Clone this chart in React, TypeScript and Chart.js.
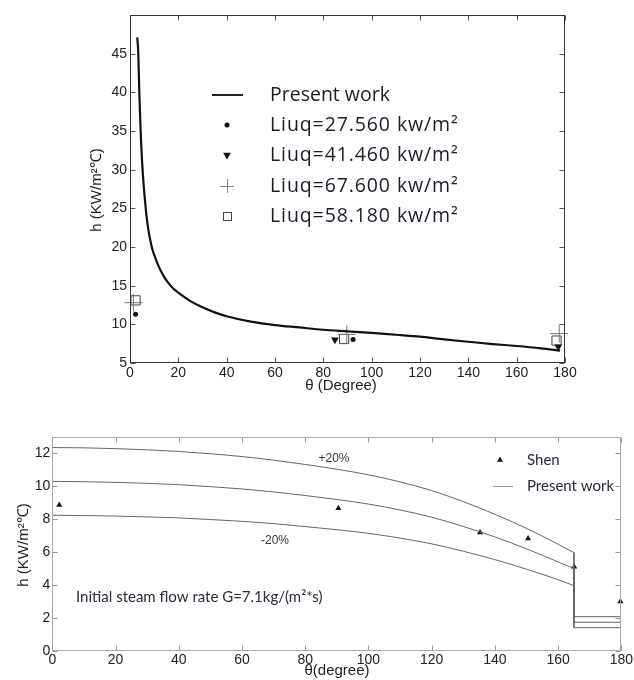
import React, { useEffect, useRef } from 'react';
import { Chart, registerables } from 'chart.js';
Chart.register(...registerables);

// ---------- shared ticks ----------
const xTickValues = [0, 20, 40, 60, 80, 100, 120, 140, 160, 180];
const topYTickValues = [5, 10, 15, 20, 25, 30, 35, 40, 45, 50];
const botYTickValues = [0, 2, 4, 6, 8, 10, 12];

// ---------- top chart data ----------
const topCurveX = [3.0, 3.4, 3.85, 4.4, 5.2, 6.5, 7.5, 9, 10, 12, 14, 16, 18, 20, 25, 30, 35, 40, 50, 60, 70, 80, 90, 100, 110, 120, 130, 140, 150, 160, 170, 178];
const topCurveY = [47.1, 45.3, 40, 35, 30, 25, 22.4, 20, 19.0, 17.4, 16.2, 15.3, 14.6, 14.1, 13.0, 12.2, 11.55, 11.05, 10.35, 9.9, 9.6, 9.3, 9.1, 8.9, 8.65, 8.4, 8.05, 7.75, 7.45, 7.2, 6.9, 6.6];
const liuq1X = [2.3, 92.3];
const liuq1Y = [11.3, 8.05];
const liuq2X = [84.8, 177.2];
const liuq2Y = [8.0, 7.1];
const liuq3X = [1.4, 89.7, 177.6];
const liuq3Y = [12.8, 8.7, 8.8];
const liuq4X = [2.3, 88.6, 176.5];
const liuq4Y = [13.1, 8.1, 7.9];
const topLegendLabels = ['Present work', 'Liuq=27.560 kw/m²', 'Liuq=41.460 kw/m²', 'Liuq=67.600 kw/m²', 'Liuq=58.180 kw/m²'];

// ---------- bottom chart data ----------
const botCurveX = [0, 10, 20, 30, 40, 50, 60, 70, 80, 90, 100, 110, 120, 130, 140, 150, 160, 165];
const presentY = [10.3, 10.28, 10.24, 10.18, 10.1, 9.98, 9.84, 9.66, 9.44, 9.2, 8.92, 8.56, 8.12, 7.56, 6.92, 6.2, 5.4, 5.0];
const plus20Y = [12.36, 12.34, 12.29, 12.22, 12.12, 11.98, 11.81, 11.59, 11.33, 11.04, 10.7, 10.27, 9.74, 9.07, 8.3, 7.44, 6.48, 5.97];
const minus20Y = [8.24, 8.22, 8.19, 8.14, 8.08, 7.98, 7.87, 7.73, 7.55, 7.36, 7.14, 6.85, 6.5, 6.05, 5.54, 4.96, 4.32, 3.96];
const stepX = [165, 165, 180];
const presentStepY = [5.0, 1.73, 1.73];
const plus20StepY = [5.97, 2.07, 2.07];
const minus20StepY = [3.96, 1.4, 1.4];
const shenX = [2.2, 90.5, 135.3, 150.5, 165.1, 179.7];
const shenY = [8.87, 8.67, 7.19, 6.82, 5.1, 3.0];
const botLegendLabels = ['Shen', 'Present work'];

const toPts = (xs: number[], ys: number[]) => xs.map((x, i) => ({ x, y: ys[i] }));

const TICK_FONT = '"Liberation Sans", Arial, sans-serif';

function drawTri(ctx: CanvasRenderingContext2D, x: number, y: number, r: number, down: boolean) {
  const h = r * 1.5;
  const w = r * Math.sqrt(3) / 2;
  ctx.beginPath();
  if (down) {
    ctx.moveTo(x - w, y - h / 3);
    ctx.lineTo(x + w, y - h / 3);
    ctx.lineTo(x, y + (2 * h) / 3);
  } else {
    ctx.moveTo(x - w, y + h / 3);
    ctx.lineTo(x + w, y + h / 3);
    ctx.lineTo(x, y - (2 * h) / 3);
  }
  ctx.closePath();
  ctx.fill();
}

function framePlugin(cfg: {
  frameColor: string;
  tickColor: string;
  tickLen: number;
  yTicks: number[];
  extra: (ctx: CanvasRenderingContext2D, chart: any) => void;
}) {
  return {
    id: 'frame',
    afterDraw(chart: any) {
      const { ctx, chartArea: a, scales } = chart;
      const L = Math.round(a.left) + 0.5;
      const R = Math.round(a.right) - 0.5;
      const T = Math.round(a.top) + 0.5;
      const B = Math.round(a.bottom) - 0.5;
      ctx.save();
      ctx.lineWidth = 1;
      ctx.strokeStyle = cfg.tickColor;
      ctx.beginPath();
      xTickValues.forEach((v) => {
        const px = Math.round(scales.x.getPixelForValue(v)) + 0.5;
        ctx.moveTo(px, B);
        ctx.lineTo(px, B - cfg.tickLen);
        ctx.moveTo(px, T);
        ctx.lineTo(px, T + cfg.tickLen);
      });
      cfg.yTicks.forEach((v) => {
        const py = Math.round(scales.y.getPixelForValue(v)) + 0.5;
        ctx.moveTo(L, py);
        ctx.lineTo(L + cfg.tickLen, py);
        ctx.moveTo(R, py);
        ctx.lineTo(R - cfg.tickLen, py);
      });
      ctx.stroke();
      ctx.strokeStyle = cfg.frameColor;
      ctx.strokeRect(L, T, R - L, B - T);
      cfg.extra(ctx, chart);
      ctx.restore();
    },
  };
}

function TopChart() {
  const ref = useRef<HTMLCanvasElement>(null);
  useEffect(() => {
    if (!ref.current) return;
    const chart = new Chart(ref.current, {
      type: 'scatter',
      data: {
        datasets: [
          {
            data: toPts(topCurveX, topCurveY),
            showLine: true,
            borderColor: '#111',
            borderWidth: 2.2,
            pointRadius: 0,
            cubicInterpolationMode: 'monotone',
          } as any,
          { data: toPts(liuq1X, liuq1Y), pointStyle: 'circle', pointRadius: 2.5, backgroundColor: '#111', borderColor: '#111', borderWidth: 0, clip: false } as any,
          { data: toPts(liuq2X, liuq2Y), pointStyle: 'triangle', rotation: 180, pointRadius: 4.5, backgroundColor: '#111', borderColor: '#111', borderWidth: 0, clip: false } as any,
          { data: toPts(liuq3X, liuq3Y), pointStyle: 'cross', pointRadius: 9, borderColor: '#777', borderWidth: 1, clip: false } as any,
          { data: toPts(liuq4X, liuq4Y), pointStyle: 'rect', pointRadius: 6.5, backgroundColor: 'rgba(255,255,255,0)', borderColor: '#444', borderWidth: 1, clip: false } as any,
        ],
      },
      options: {
        animation: false,
        responsive: false,
        events: [],
        layout: { padding: { left: 0, top: 15, right: 69, bottom: 0 } },
        plugins: { legend: { display: false }, tooltip: { enabled: false } },
        scales: {
          x: {
            type: 'linear',
            min: 0,
            max: 180,
            afterBuildTicks: (s: any) => { s.ticks = xTickValues.map((v) => ({ value: v })); },
            afterFit: (s: any) => { s.height = 32; },
            ticks: { font: { family: TICK_FONT, size: 14 }, color: '#222', padding: 2, maxRotation: 0, autoSkip: false },
            grid: { display: false, drawTicks: false },
            border: { display: false },
          },
          y: {
            type: 'linear',
            min: 5,
            max: 50,
            afterBuildTicks: (s: any) => { s.ticks = topYTickValues.map((v) => ({ value: v })); },
            afterFit: (s: any) => { s.width = 130; },
            ticks: {
              font: { family: TICK_FONT, size: 14 },
              color: '#222',
              padding: 3,
              autoSkip: false,
              callback: (v: any) => (v === 50 ? '' : String(v)),
            },
            grid: { display: false, drawTicks: false },
            border: { display: false },
          },
        },
      } as any,
      plugins: [
        framePlugin({
          frameColor: '#333',
          tickColor: '#555',
          tickLen: 5,
          yTicks: topYTickValues,
          extra: (ctx) => {
            ctx.fillStyle = '#222';
            ctx.font = `15px ${TICK_FONT}`;
            ctx.textAlign = 'center';
            ctx.textBaseline = 'middle';
            ctx.fillText('θ (Degree)', 341, 386);
            ctx.save();
            ctx.translate(97, 190);
            ctx.rotate(-Math.PI / 2);
            ctx.fillText('h (KW/m²℃)', 0, 0);
            ctx.restore();
            // legend
            const rows = [95, 125, 155, 186, 216];
            const mx = 227;
            ctx.strokeStyle = '#222';
            ctx.lineWidth = 2;
            ctx.beginPath();
            ctx.moveTo(212, rows[0]);
            ctx.lineTo(243, rows[0]);
            ctx.stroke();
            ctx.fillStyle = '#111';
            ctx.beginPath();
            ctx.arc(mx, rows[1], 2.5, 0, Math.PI * 2);
            ctx.fill();
            drawTri(ctx, mx, rows[2], 4.5, true);
            ctx.strokeStyle = '#888';
            ctx.lineWidth = 1;
            ctx.beginPath();
            ctx.moveTo(mx - 7, rows[3] + 0.5);
            ctx.lineTo(mx + 7, rows[3] + 0.5);
            ctx.moveTo(mx + 0.5, rows[3] - 7);
            ctx.lineTo(mx + 0.5, rows[3] + 7);
            ctx.stroke();
            ctx.strokeStyle = '#444';
            ctx.strokeRect(mx - 3.5, rows[4] - 3.5, 8, 8);
            ctx.fillStyle = '#1c1c28';
            ctx.font = '19.5px "Open Sans"';
            ctx.textAlign = 'left';
            ctx.textBaseline = 'middle';
            topLegendLabels.forEach((t, i) => {
              (ctx as any).letterSpacing = i === 0 ? '0px' : '0.9px';
              ctx.fillText(t, 270, rows[i]);
            });
            (ctx as any).letterSpacing = '0px';
          },
        }) as any,
      ],
    });
    return () => chart.destroy();
  }, []);
  return <canvas ref={ref} width={634} height={395} style={{ display: 'block' }} />;
}

function BottomChart() {
  const ref = useRef<HTMLCanvasElement>(null);
  useEffect(() => {
    if (!ref.current) return;
    const lineDs = (xs: number[], ys: number[], mono: boolean) => ({
      data: toPts(xs, ys),
      showLine: true,
      borderColor: '#666',
      borderWidth: 1,
      pointRadius: 0,
      cubicInterpolationMode: mono ? 'monotone' : 'default',
      tension: 0,
    });
    const chart = new Chart(ref.current, {
      type: 'scatter',
      data: {
        datasets: [
          lineDs(botCurveX, plus20Y, true) as any,
          lineDs(botCurveX, presentY, true) as any,
          lineDs(botCurveX, minus20Y, true) as any,
          lineDs(stepX, plus20StepY, false) as any,
          lineDs(stepX, presentStepY, false) as any,
          lineDs(stepX, minus20StepY, false) as any,
          { data: toPts(shenX, shenY), pointStyle: 'triangle', pointRadius: 3.5, backgroundColor: '#111', borderColor: '#111', borderWidth: 0, clip: false } as any,
        ],
      },
      options: {
        animation: false,
        responsive: false,
        events: [],
        layout: { padding: { left: 0, top: 42, right: 11, bottom: 0 } },
        plugins: { legend: { display: false }, tooltip: { enabled: false } },
        scales: {
          x: {
            type: 'linear',
            min: 0,
            max: 180,
            afterBuildTicks: (s: any) => { s.ticks = xTickValues.map((v) => ({ value: v })); },
            afterFit: (s: any) => { s.height = 29.3; },
            ticks: { font: { family: TICK_FONT, size: 14 }, color: '#222', padding: 1, maxRotation: 0, autoSkip: false },
            grid: { display: false, drawTicks: false },
            border: { display: false },
          },
          y: {
            type: 'linear',
            min: 0,
            max: 13,
            afterBuildTicks: (s: any) => { s.ticks = botYTickValues.map((v) => ({ value: v })); },
            afterFit: (s: any) => { s.width = 52.3; },
            ticks: { font: { family: TICK_FONT, size: 14 }, color: '#222', padding: 2, autoSkip: false },
            grid: { display: false, drawTicks: false },
            border: { display: false },
          },
        },
      } as any,
      plugins: [
        framePlugin({
          frameColor: '#aaa',
          tickColor: '#999',
          tickLen: 5,
          yTicks: botYTickValues,
          extra: (ctx) => {
            const oy = -395; // this canvas starts 395px down the page
            ctx.fillStyle = '#222';
            ctx.font = `15px ${TICK_FONT}`;
            ctx.textAlign = 'center';
            ctx.textBaseline = 'middle';
            ctx.fillText('θ(degree)', 337, 671 + oy);
            ctx.save();
            ctx.translate(24, 545 + oy);
            ctx.rotate(-Math.PI / 2);
            ctx.fillText('h (KW/m²℃)', 0, 0);
            ctx.restore();
            // annotations
            ctx.fillStyle = '#333';
            ctx.font = `12px ${TICK_FONT}`;
            ctx.fillText('+20%', 334, 459 + oy);
            ctx.fillText('-20%', 275, 541 + oy);
            ctx.textAlign = 'left';
            ctx.font = '15px Lato';
            ctx.fillStyle = '#2a2a3a';
            ctx.fillText('Initial steam flow rate G=7.1kg/(m²*s)', 76, 597 + oy);
            // legend
            ctx.fillStyle = '#111';
            drawTri(ctx, 500, 460 + oy, 3.5, false);
            ctx.strokeStyle = '#999';
            ctx.lineWidth = 1;
            ctx.beginPath();
            ctx.moveTo(493, 486.5 + oy);
            ctx.lineTo(513, 486.5 + oy);
            ctx.stroke();
            ctx.fillStyle = '#2a2a3a';
            ctx.font = '15px Lato';
            ctx.fillText(botLegendLabels[0], 527, 460 + oy);
            ctx.fillText(botLegendLabels[1], 527, 486 + oy);
          },
        }) as any,
      ],
    });
    return () => chart.destroy();
  }, []);
  return <canvas ref={ref} width={634} height={285} style={{ display: 'block' }} />;
}

export default function App() {
  return (
    <div style={{ position: 'absolute', left: 0, top: 0, width: 634, height: 680, background: '#fff' }}>
      <TopChart />
      <BottomChart />
    </div>
  );
}
